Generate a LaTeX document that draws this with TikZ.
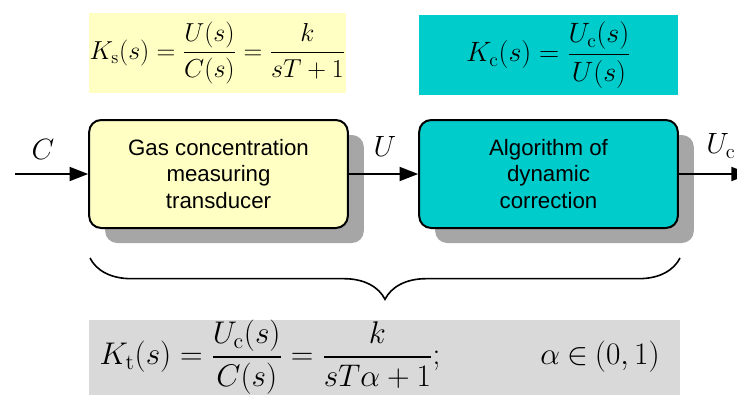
\RequirePackage{fix-cm}
\documentclass[tikz,border=0pt]{standalone}
\usepackage{amsmath}
\usepackage[no-math]{fontspec}
\setmainfont{Liberation Sans}
\usetikzlibrary{arrows.meta,decorations.pathreplacing}
\definecolor{lyellow}{HTML}{FFFFC4}
\definecolor{tcyan}{HTML}{00CCCC}
\definecolor{lgray}{HTML}{D9D9D9}
\definecolor{sgray}{HTML}{A6A6A6}
\tikzset{
  fbox/.style={inner sep=0pt, minimum width=193pt, minimum height=60pt, font=\fontsize{19.5}{24}\selectfont},
  blockbox/.style={draw=black, line width=1.5pt, rounded corners=9pt, minimum width=194pt, minimum height=81pt,
     align=center, inner sep=0pt, font=\fontsize{16.7}{20}\selectfont},
  shadowbox/.style={fill=sgray, rounded corners=9pt, minimum width=194pt, minimum height=81pt, inner sep=0pt},
  arr/.style={line width=1.5pt, -{Triangle[length=14pt,width=10.5pt]}},
  sig/.style={font=\fontsize{22}{26}\selectfont, inner sep=0pt},
  mathtxt/.style={font=\fontsize{23.5}{28}\selectfont, inner sep=0pt}
}
\begin{document}
\begin{tikzpicture}[x=0.75pt,y=-0.75pt]
\clip (0,0) rectangle (737,407);
\fill[white] (0,0) rectangle (737,407);
% formula boxes
\node[fbox, fill=lyellow] (f1) at (217.5,53) {$K_{\mathrm{s}}(s)=\dfrac{U(s)}{C(s)}=\dfrac{k}{sT+1}$};
\node[fbox, fill=tcyan, minimum width=194pt, font=\fontsize{21}{25}\selectfont] (f2) at (548.5,55) {$K_{\mathrm{c}}(s)=\dfrac{U_{\mathrm{c}}(s)}{U(s)}$};
% shadows
\node[shadowbox] (s1) at (234.5,189) {};
\node[shadowbox] (s2) at (564.5,189) {};
% blocks
\node[blockbox, fill=lyellow] (b1) at (218.5,174) {Gas concentration\\measuring\\transducer};
\node[blockbox, fill=tcyan] (b2) at (548.5,174) {Algorithm of\\dynamic\\correction};
% connectors
\coordinate (cin) at (15,174);
\coordinate (cout) at (750,174);
\draw[arr] (cin) -- (b1.west);
\draw[arr] (b1.east) -- (b2.west);
\draw[arr] (b2.east) -- (cout);
\node[sig] (lc) at (43,149) {$C$};
\node[sig] (lu) at (385,146) {$U$};
\node[sig, anchor=west] (luc) at (706,146) {$U_{\mathrm{c}}$};
% brace
\coordinate (bl) at (90,258);
\coordinate (br) at (680,258);
\draw[line width=1.2pt, decorate, decoration={brace, mirror, amplitude=31pt}] (bl) -- (br);
% bottom box
\node[fill=lgray, minimum width=443pt, minimum height=56pt, inner sep=0pt] (f3) at (384.5,357.5) {};
\node[mathtxt] (f3a) at (270,357) {$K_{\mathrm{t}}(s)=\dfrac{U_{\mathrm{c}}(s)}{C(s)}=\dfrac{k}{sT\alpha+1};$};
\node[mathtxt] (f3b) at (600,357) {$\alpha\mathbin{\in}(0,1)$};
\end{tikzpicture}
\end{document}
